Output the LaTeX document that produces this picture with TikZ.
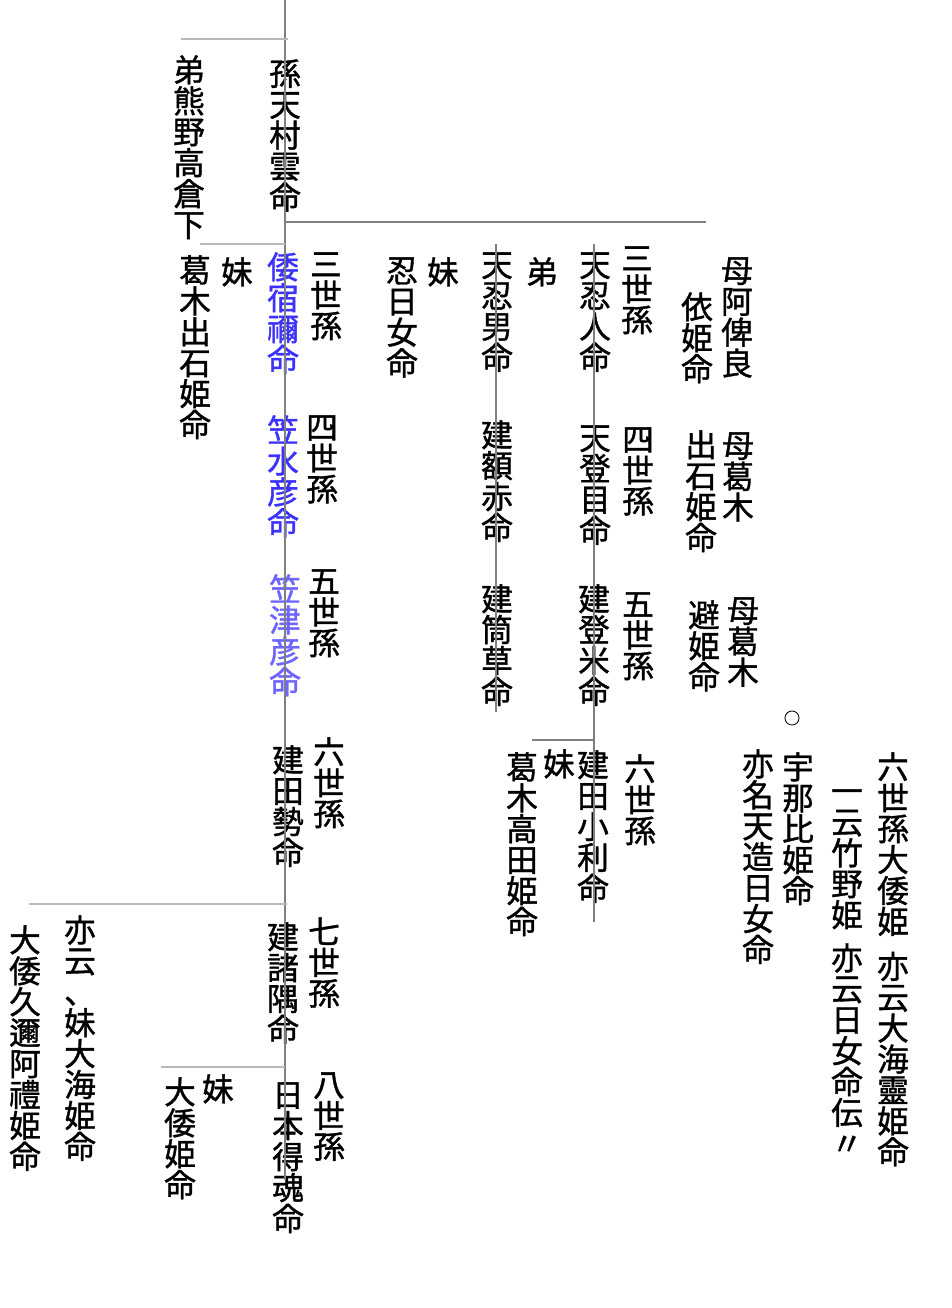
\documentclass[tikz,border=0pt]{standalone}
\usepackage{fontspec}
\usetikzlibrary{positioning}
\newfontfamily\jpfont[FakeBold=1.2]{Noto Sans CJK JP}
\definecolor{LineGray}{RGB}{128,128,128}
\definecolor{PaleGray}{RGB}{185,185,185}
\definecolor{YasuBlue}{RGB}{60,50,255}
\definecolor{PaleBlue}{RGB}{110,100,255}
\ExplSyntaxOn
\NewDocumentCommand\tate{m}{\vbox{\tl_map_inline:nn{#1}{\hbox_to_wd:nn{1em}{\hss##1\hss}}}}
\ExplSyntaxOff
\tikzset{
  nm/.style={font={\jpfont\fontsize{18}{17.6}\selectfont},inner sep=0pt,anchor=north,align=center},
  nmblue/.style={nm,text=YasuBlue},
  nmpale/.style={nm,text=PaleBlue},
  rule/.style={draw=LineGray,line width=0.6pt},
  faint/.style={draw=PaleGray,line width=0.6pt},
}

\begin{document}
\begin{tikzpicture}[x=0.02cm,y=-0.02cm]
\useasboundingbox (0,0) rectangle (951,1308);
% left side: line of 天村雲命
\node[nm] (kumano) at (189,55) {\tate{弟熊野高倉下}};
\node[nm] (amamura) at (285,59) {\tate{孫天村雲命}};
\node[nm] (imo1) at (237,257) {\tate{妹}};
\node[nm] (izushi1) at (195,255) {\tate{葛木出石姫命}};
\node[nmblue] (yasune) at (283,252) {\tate{倭宿禰命}};
\node[nmblue] (kasamizu) at (283,415) {\tate{笠水彦命}};
\node[nmpale] (kasatsu) at (285,574) {\tate{笠津彦命}};
\node[nm] (gen3a) at (326,252) {\tate{三世孫}};
\node[nm] (gen4a) at (322,415) {\tate{四世孫}};
\node[nm] (gen5a) at (324,569) {\tate{五世孫}};
\node[nm] (gen6a) at (329,737) {\tate{六世孫}};
\node[nm] (takedase) at (288,745) {\tate{建田勢命}};
\node[nm] (gen7) at (324,917) {\tate{七世孫}};
\node[nm] (moromi) at (283,922) {\tate{建諸隅命}};
\node[nm] (gen8) at (329,1072) {\tate{八世孫}};
\node[nm] (tamahiko) at (288,1082) {\tate{日本得魂命}};
\node[nm] (imo5) at (218,1074) {\tate{妹}};
\node[nm] (oyamato) at (180,1077) {\tate{大倭姫命}};
\node[nm] (oama) at (80,915) {\tate{亦云、妹大海姫命}};
\node[nm] (kuniare) at (25,925) {\tate{大倭久邇阿禮姫命}};
% middle: 天忍人命 and 天忍男命
\node[nm] (imo2) at (443,257) {\tate{妹}};
\node[nm] (oshihime) at (402,257) {\tate{忍日女命}};
\node[nm] (oshio) at (497,252) {\tate{天忍男命}};
\node[nm] (oto) at (542,257) {\tate{弟}};
\node[nm] (oshihito) at (595,252) {\tate{天忍人命}};
\node[nm] (gen3b) at (637,246) {\tate{三世孫}};
\node[nm] (nukaaka) at (497,420) {\tate{建額赤命}};
\node[nm] (tomime) at (595,425) {\tate{天登目命}};
\node[nm] (gen4b) at (638,427) {\tate{四世孫}};
\node[nm] (tsutsukusa) at (497,584) {\tate{建筒草命}};
\node[nm] (tomeme) at (594,584) {\tate{建登米命}};
\node[nm] (gen5b) at (638,592) {\tate{五世孫}};
\node[nm] (haha1) at (737,257) {\tate{母阿俾良}};
\node[nm] (yorihime) at (697,292) {\tate{依姫命}};
\node[nm] (haha2) at (738,432) {\tate{母葛木}};
\node[nm] (izushi2) at (701,430) {\tate{出石姫命}};
\node[nm] (haha3) at (743,597) {\tate{母葛木}};
\node[nm] (sakuhime) at (704,600) {\tate{避姫命}};
\node[nm] (imo4) at (559,749) {\tate{妹}};
\node[nm] (takada) at (522,752) {\tate{葛木高田姫命}};
\node[nm] (tadaori) at (593,750) {\tate{建田小利命}};
\node[nm] (gen6b) at (640,754) {\tate{六世孫}};
% right: 宇那比姫命 and 大倭姫
\node[circle,draw,line width=0.5pt,inner sep=0pt,minimum size=8] (maru) at (792,718) {};
\node[nm] (amanoma) at (758,749) {\tate{亦名天造日女命}};
\node[nm] (unahi) at (798,752) {\tate{宇那比姫命}};
\node[nm] (takeno) at (847,789) {\tate{一云竹野姫}\\[7pt]\tate{亦云日女命伝〃}};
\node[nm] (ohyamato) at (893,752) {\tate{六世孫大倭姫}\\[8pt]\tate{亦云大海靈姫命}};
% lines
\coordinate (trunkT) at (285,0);
\coordinate (trunkB) at (285,1180);
\coordinate (k1) at (181,39);
\coordinate (k2) at (288,39);
\coordinate (br1) at (706,222);
\coordinate (br1a) at (285,222);
\coordinate (i1) at (200,244);
\coordinate (i2) at (285,244);
\coordinate (vO1) at (496,244);
\coordinate (vO2) at (496,712);
\coordinate (vH1) at (594,244);
\coordinate (vH2) at (594,922);
\coordinate (t1) at (532,740);
\coordinate (t2) at (594,740);
\coordinate (m1) at (29,904);
\coordinate (m2) at (287,904);
\coordinate (y1) at (161,1067);
\coordinate (y2) at (285,1067);
\draw[rule] (trunkT) -- (trunkB);
\draw[faint] (k1) -- (k2);
\draw[rule] (br1a) -- (br1);
\draw[faint] (i1) -- (i2);
\draw[rule] (vO1) -- (vO2);
\draw[rule] (vH1) -- (vH2);
\draw[rule] (t1) -- (t2);
\draw[faint] (m1) -- (m2);
\draw[faint] (y1) -- (y2);
\end{tikzpicture}
\end{document}
